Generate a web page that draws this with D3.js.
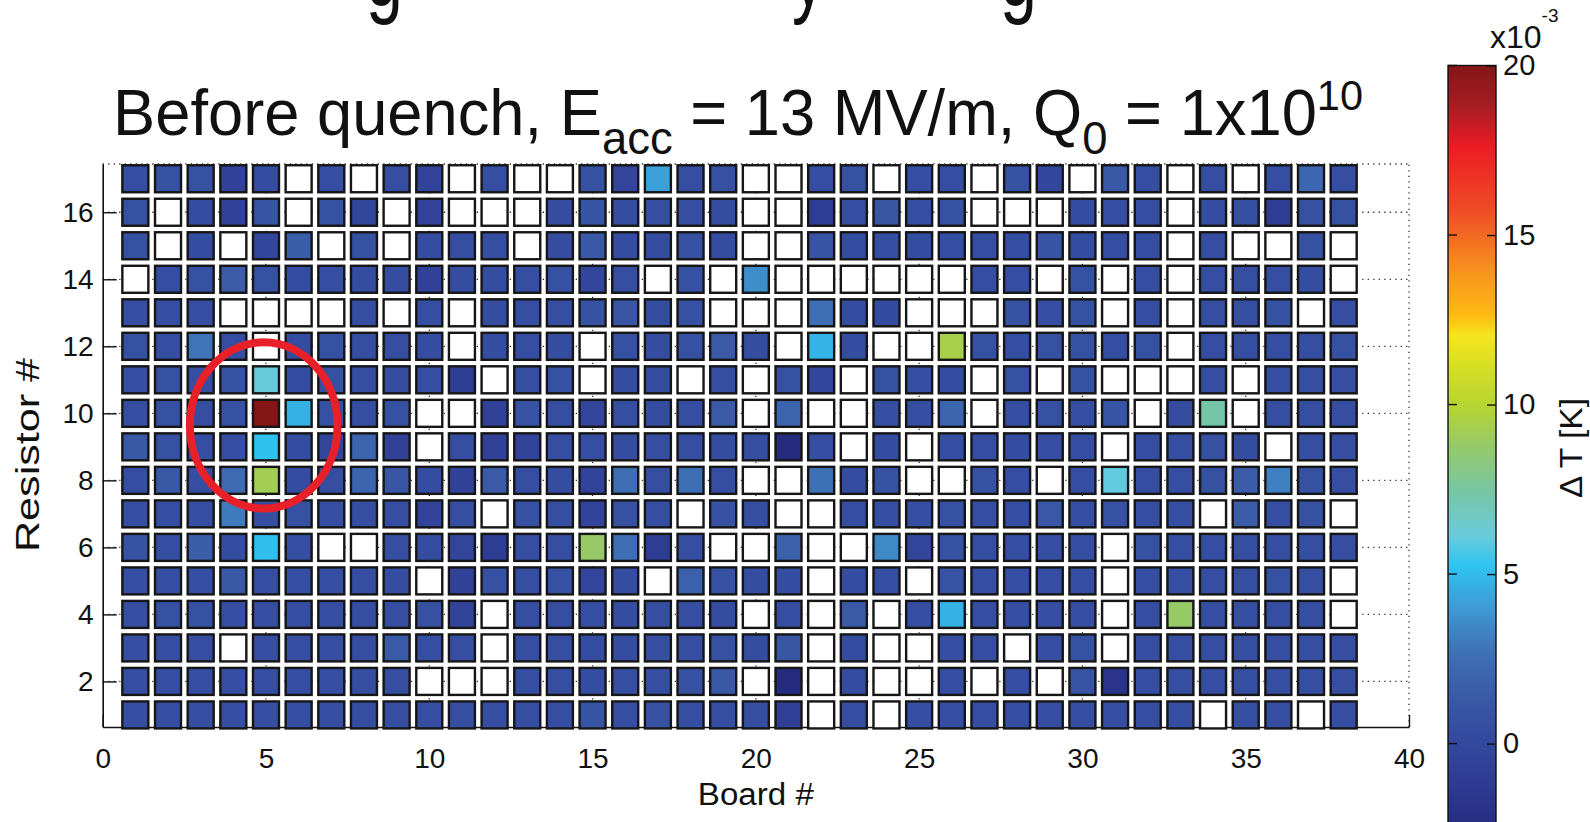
<!DOCTYPE html>
<html>
<head>
<meta charset="utf-8">
<script src="https://cdn.jsdelivr.net/npm/d3@7"></script>
<style>
    body { margin: 0; background: #fff; }
    svg text { font-family: "Liberation Sans", Arial, sans-serif; fill: #111; }
    .axis path, .axis line { stroke: #111; }
</style>
</head>
<body>
<svg id="chart" width="1590" height="822"></svg>
<script>
    /* global d3 */
    var boards = [1,2,3,4,5,6,7,8,9,10,11,12,13,14,15,16,17,18,19,20,21,22,23,24,25,26,27,28,29,30,31,32,33,34,35,36,37,38];
    var resistors = [1,2,3,4,5,6,7,8,9,10,11,12,13,14,15,16,17];

    // delta T per resistor row, in 1e-3 K, null = no reading (white square)
    var r1  = [0.5,0.5,0.5,0.5,0.5,0.5,0.5,0.5,0.5,0.5,0.5,0.5,0.5,0.5,1.0,0.5,0.8,0.5,0.5,0.5,-0.8,null,0.5,null,0.5,0.5,0.5,0.5,0.5,0.5,0.5,0.5,0.5,null,0.5,0.5,null,0.5];
    var r2  = [0.5,0.5,0.5,0.5,0.5,0.5,0.5,0.5,0.5,null,null,null,0.5,0.5,0.4,0.5,0.5,0.6,1.3,null,-2.8,null,0.4,null,null,0.5,null,0.5,null,0.9,-1.8,0.5,0.5,0.5,0.5,0.5,0.5,0.5];
    var r3  = [0.5,0.5,0.5,null,0.5,0.5,0.5,0.5,1.4,0.5,0.5,null,0.5,0.5,0.4,0.4,0.5,0.5,0.7,0.4,1.1,null,0.4,null,null,0.5,0.5,null,0.5,0.7,null,0.5,0.5,0.5,0.5,0.5,0.5,0.5];
    var r4  = [0.5,0.6,0.6,0.5,0.5,0.5,0.5,0.5,0.5,0.6,-0.4,null,0.5,0.5,0.5,0.4,0.5,0.5,0.4,null,0.5,null,1.4,null,0.5,4.7,0.5,0.5,0.5,0.5,null,0.5,8.8,0.5,0.5,0.5,0.5,null];
    var r5  = [0.5,0.5,0.5,1.3,0.5,0.5,0.5,0.5,0.4,null,-0.5,0.6,0.5,0.8,-0.3,0.4,null,1.8,0.8,0.4,0.4,null,0.4,0.5,null,0.9,0.5,0.5,0.5,0.5,null,0.5,0.5,0.5,0.5,0.6,0.5,null];
    var r6  = [0.8,0.5,1.6,0.4,5.1,0.5,null,null,0.5,0.4,-0.3,-1.0,0.5,0.5,8.8,2.6,-1.0,0.5,null,null,1.8,null,null,3.5,-0.3,0.6,0.5,0.5,0.5,0.5,null,0.6,0.5,0.5,0.5,0.5,0.5,0.5];
    var r7  = [0.5,0.5,0.5,3.0,0.5,0.7,0.5,0.5,0.5,-0.4,0.5,null,0.6,0.5,-0.4,0.7,0.5,null,0.8,0.5,null,null,0.5,0.5,0.5,0.6,0.5,0.5,1.2,0.5,0.6,0.5,0.5,null,1.5,0.5,0.6,null];
    var r8  = [0.5,1.3,0.5,2.3,9.2,0.4,0.5,2.0,1.1,0.4,-0.5,1.4,0.5,0.4,-0.4,2.6,0.5,2.6,0.5,null,null,2.7,0.4,0.8,null,null,0.8,0.5,null,0.5,6.0,0.5,0.5,0.6,1.5,3.2,0.6,0.5];
    var r9  = [1.3,0.6,0.5,0.5,5.2,0.4,-0.3,1.9,-0.5,null,0.5,-0.6,-0.4,0.5,0.5,0.4,0.5,0.5,0.4,0.5,-3.0,0.5,null,0.4,null,0.5,0.5,0.4,0.5,0.5,null,0.5,0.5,0.6,0.4,null,0.5,0.5];
    var r10 = [0.5,0.6,0.5,0.6,20,4.7,0.6,0.5,0.7,null,null,-0.6,0.9,0.5,-0.3,0.5,0.4,0.5,1.4,null,1.9,null,null,0.5,0.5,2.0,null,0.5,0.6,0.5,1.0,null,0.3,7.3,null,0.5,0.5,0.5];
    var r11 = [0.5,0.6,0.5,0.6,6.1,0.4,0.6,0.5,0.4,0.5,-1.0,null,0.5,0.6,null,0.4,0.4,null,0.5,null,0.7,-0.2,null,0.6,0.5,0.4,null,0.7,null,0.6,null,null,null,0.5,null,0.5,0.5,0.5];
    var r12 = [0.6,0.5,2.8,0.5,null,0.4,0.6,0.5,0.5,0.4,null,0.4,0.5,0.4,null,0.6,0.4,0.6,1.4,0.4,null,4.8,0.4,null,null,9.4,0.6,0.5,0.6,0.6,0.5,0.6,null,0.5,0.5,0.5,0.5,0.6];
    var r13 = [0.5,0.5,0.5,null,null,null,null,0.5,null,0.5,null,0.4,0.5,0.5,0.8,1.1,0.4,0.6,null,null,null,2.5,0.4,0.2,null,null,null,0.8,0.5,0.6,null,0.5,null,0.5,0.5,0.8,null,0.5];
    var r14 = [null,0.5,0.6,1.5,0.6,0.4,0.5,0.4,0.4,-0.6,0.4,0.4,0.5,0.6,-0.2,0.5,null,0.6,null,3.6,null,null,null,null,null,null,0.5,0.5,null,0.6,null,0.5,null,0.5,0.5,0.5,0.4,null];
    var r15 = [0.7,null,0.4,null,-0.2,1.6,null,0.6,null,0.4,0.5,0.5,null,0.3,1.3,0.4,0.4,0.6,0.4,null,null,0.9,0.4,0.5,0.4,0.5,0.5,0.5,1.0,0.4,0.5,0.5,null,0.5,null,null,0.6,null];
    var r16 = [0.6,null,0.4,-0.5,1.0,null,0.6,-0.2,null,-0.4,null,null,null,0.3,1.0,0.4,0.5,0.5,0.4,null,null,-1.0,0.5,1.1,0.5,0.7,null,null,null,0.4,0.5,0.5,null,0.4,0.5,-1.0,0.7,0.6];
    var r17 = [0.5,0.8,0.6,-0.5,0.4,null,0.5,null,0.5,-0.4,null,0.5,null,null,0.6,-0.3,4.2,0.5,0.6,null,null,0.5,0.6,null,0.5,0.5,null,0.8,-0.2,null,1.3,0.5,null,0.5,null,0.5,2.2,0.5];
    var deltaT = [r1,r2,r3,r4,r5,r6,r7,r8,r9,r10,r11,r12,r13,r14,r15,r16,r17];

    var xTicks = [0,5,10,15,20,25,30,35,40];
    var yTicks = [2,4,6,8,10,12,14,16];
    var cbTicks = [0,5,10,15,20];

    // colour map (value in 1e-3 K -> colour)
    var cmapValues = [-3.5,-2.3,-1.27,0,1.2,2.75,4.0,5.24,6.15,7.4,8.63,9.87,11.1,12.04,12.65,13.9,15.75,17.6,18.84,20];
    var cmapColors = ['#23287a','#272f85','#2d3a91','#33489d','#3957a6','#3f72b7','#3e9ad5','#2ec3f0','#6bcbdb','#76c6a5','#92c96f','#b4d334','#d5de23','#f6e51b','#fdb913','#f7941d','#ef4b26','#ec1c24','#a51d23','#841618'];

    var svg = d3.select('#chart');

    var x = d3.scaleLinear().domain([0, 40]).range([102.7, 1409]);
    var y = d3.scaleLinear().domain([0.64, 17.44]).range([727, 164]);
    var color = d3.scaleLinear().domain(cmapValues).range(cmapColors).clamp(true);

    // clipped slide heading above the chart (only descenders show)
    [['g', 366], ['y', 792], ['g', 1000]].forEach(function(g){
        svg.append('text').attr('x', g[1]).attr('y', 6)
            .attr('font-size', 92).attr('transform', 'translate(' + g[1] + ',0) scale(0.72,1) translate(' + (-g[1]) + ',0)')
            .text(g[0]);
    });

    // title
    var title = svg.append('text')
        .attr('x', 113).attr('y', 135)
        .attr('font-size', 64)
        .attr('textLength', 1250)
        .attr('lengthAdjust', 'spacingAndGlyphs');
    title.append('tspan').text('Before quench, E');
    title.append('tspan').attr('dy', 19).attr('font-size', 46).text('acc');
    title.append('tspan').attr('dy', -19).text(' = 13 MV/m, Q');
    title.append('tspan').attr('dy', 19).attr('font-size', 46).text('0');
    title.append('tspan').attr('dy', -19).text(' = 1x10');
    title.append('tspan').attr('dy', -25).attr('font-size', 42).text('10');

    // dotted grid
    var grid = svg.append('g')
        .attr('stroke', '#333').attr('stroke-width', 1.3)
        .attr('stroke-dasharray', '1.3 4.2');
    grid.selectAll('line.h')
        .data(yTicks.concat([y.domain()[1]])).enter()
        .append('line')
        .attr('x1', x(0)).attr('x2', x(40))
        .attr('y1', d => y(d)).attr('y2', d => y(d));
    grid.selectAll('line.v')
        .data(xTicks.slice(1)).enter()
        .append('line')
        .attr('y1', y.range()[0]).attr('y2', y.range()[1])
        .attr('x1', d => x(d)).attr('x2', d => x(d));

    // axes
    svg.append('g')
        .attr('class', 'axis')
        .attr('transform', 'translate(' + x(0) + ',0)')
        .call(d3.axisLeft(y).tickValues(yTicks).tickSizeInner(-14).tickSizeOuter(0).tickPadding(9))
        .call(g => g.select('.domain').attr('stroke-width', 1.6))
        .call(g => g.selectAll('.tick line').attr('stroke-width', 1.4))
        .call(g => g.selectAll('text').attr('font-size', 28).attr('font-family', null));

    svg.append('g')
        .attr('class', 'axis')
        .attr('transform', 'translate(0,' + y.range()[0] + ')')
        .call(d3.axisBottom(x).tickValues(xTicks).tickSizeInner(-12).tickSizeOuter(0).tickPadding(21))
        .call(g => g.select('.domain').attr('stroke-width', 1.6))
        .call(g => g.selectAll('.tick line').attr('stroke-width', 1.4))
        .call(g => g.selectAll('text').attr('font-size', 28).attr('font-family', null));

    // squares
    var cells = [];
    deltaT.forEach((row, i) => row.forEach((v, j) => cells.push({ board: boards[j], res: resistors[i], v: v })));

    svg.append('g').selectAll('rect')
        .data(cells).enter()
        .append('rect')
        .attr('x', d => x(d.board) - 13)
        .attr('y', d => y(d.res) - 13.5)
        .attr('width', 26)
        .attr('height', 27)
        .attr('fill', d => d.v === null ? '#fff' : color(d.v))
        .attr('stroke', '#161616')
        .attr('stroke-width', 2.4);

    // axis labels
    svg.append('text')
        .attr('x', x(20)).attr('y', 805)
        .attr('text-anchor', 'middle')
        .attr('font-size', 31)
        .attr('textLength', 116).attr('lengthAdjust', 'spacingAndGlyphs')
        .text('Board #');

    svg.append('text')
        .attr('transform', 'translate(39,455) rotate(-90)')
        .attr('text-anchor', 'middle')
        .attr('font-size', 33)
        .attr('textLength', 194).attr('lengthAdjust', 'spacingAndGlyphs')
        .text('Resistor #');

    // red circle annotation
    svg.append('ellipse')
        .attr('cx', x(4.93)).attr('cy', y(9.64))
        .attr('rx', x(4.93 + 2.26) - x(4.93))
        .attr('ry', y(9.64) - y(9.64 + 2.48))
        .attr('fill', 'none')
        .attr('stroke', '#e8202a')
        .attr('stroke-width', 8);

    // colour bar
    var cb = d3.scaleLinear().domain([0, 20]).range([743.6, 65.5]);
    var cbMin = -3.5, cbMax = 20;
    var defs = svg.append('defs');
    var grad = defs.append('linearGradient')
        .attr('id', 'cbgrad')
        .attr('x1', 0).attr('y1', 1).attr('x2', 0).attr('y2', 0);
    grad.selectAll('stop')
        .data(cmapValues).enter()
        .append('stop')
        .attr('offset', d => (d - cbMin) / (cbMax - cbMin))
        .attr('stop-color', d => color(d));

    var cbLeft = 1448, cbWidth = 48;
    svg.append('rect')
        .attr('x', cbLeft).attr('y', cb(cbMax))
        .attr('width', cbWidth).attr('height', cb(cbMin) - cb(cbMax))
        .attr('fill', 'url(#cbgrad)')
        .attr('stroke', '#111').attr('stroke-width', 1.4);

    svg.append('g')
        .attr('class', 'axis')
        .attr('transform', 'translate(' + (cbLeft + cbWidth) + ',0)')
        .call(d3.axisRight(cb).tickValues(cbTicks).tickSizeInner(-9).tickSizeOuter(0).tickPadding(7))
        .call(g => g.select('.domain').remove())
        .call(g => g.selectAll('.tick line').attr('stroke-width', 1.4))
        .call(g => g.selectAll('text').attr('font-size', 29).attr('font-family', null));

    svg.append('g')
        .selectAll('line')
        .data(cbTicks).enter()
        .append('line')
        .attr('x1', cbLeft).attr('x2', cbLeft + 9)
        .attr('y1', d => cb(d)).attr('y2', d => cb(d))
        .attr('stroke', '#111').attr('stroke-width', 1.4);

    var expo = svg.append('text')
        .attr('x', 1490).attr('y', 48)
        .attr('font-size', 32);
    expo.append('tspan').text('x10');
    expo.append('tspan').attr('dy', -26).attr('font-size', 19).text('-3');

    svg.append('text')
        .attr('transform', 'translate(1582,448) rotate(-90)')
        .attr('text-anchor', 'middle')
        .attr('font-size', 31)
        .attr('textLength', 100).attr('lengthAdjust', 'spacingAndGlyphs')
        .text('\u0394 T [K]');
</script>
</body>
</html>
